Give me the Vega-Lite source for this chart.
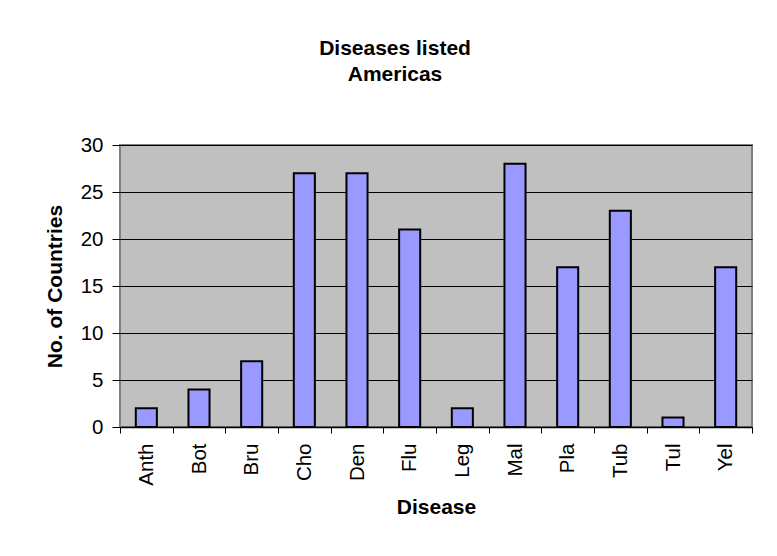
{
  "$schema": "https://vega.github.io/schema/vega-lite/v6.json",
  "autosize": {"type": "none"},
  "width": 632,
  "height": 282,
  "padding": {"left": 120, "top": 145, "right": 25, "bottom": 129},
  "background": "white",
  "title": {
    "text": ["Diseases listed", "Americas"],
    "font": "Liberation Sans",
    "fontSize": 21,
    "fontWeight": "bold",
    "color": "black",
    "lineHeight": 26,
    "anchor": "middle",
    "dx": -41,
    "offset": 50
  },
  "data": {
    "values": [
      {"disease": "Anth", "countries": 2},
      {"disease": "Bot", "countries": 4},
      {"disease": "Bru", "countries": 7},
      {"disease": "Cho", "countries": 27},
      {"disease": "Den", "countries": 27},
      {"disease": "Flu", "countries": 21},
      {"disease": "Leg", "countries": 2},
      {"disease": "Mal", "countries": 28},
      {"disease": "Pla", "countries": 17},
      {"disease": "Tub", "countries": 23},
      {"disease": "Tul", "countries": 1},
      {"disease": "Yel", "countries": 17}
    ]
  },
  "mark": {
    "type": "bar",
    "width": {"band": 0.4},
    "fill": "#9999FF",
    "stroke": "black",
    "strokeWidth": 2
  },
  "encoding": {
    "x": {
      "field": "disease",
      "type": "nominal",
      "sort": null,
      "scale": {"paddingInner": 0, "paddingOuter": 0},
      "axis": {
        "title": "Disease",
        "titleFont": "Liberation Sans",
        "titleFontSize": 21,
        "titleFontWeight": "bold",
        "titleColor": "black",
        "titlePadding": 11,
        "labelFont": "Liberation Sans",
        "labelFontSize": 20.5,
        "labelColor": "black",
        "labelAngle": -90,
        "labelPadding": 10,
        "tickBand": "extent",
        "tickSize": 6,
        "tickColor": "black",
        "domainColor": "black",
        "domainWidth": 1.5,
        "grid": false
      }
    },
    "y": {
      "field": "countries",
      "type": "quantitative",
      "scale": {"domain": [0, 30], "nice": false},
      "axis": {
        "title": "No. of Countries",
        "titleFont": "Liberation Sans",
        "titleFontSize": 21,
        "titleFontWeight": "bold",
        "titleColor": "black",
        "titlePadding": 15,
        "labelFont": "Liberation Sans",
        "labelFontSize": 20.5,
        "labelColor": "black",
        "labelPadding": 9,
        "values": [0, 5, 10, 15, 20, 25, 30],
        "tickSize": 8,
        "tickColor": "black",
        "domain": false,
        "grid": true,
        "gridColor": "black",
        "gridOpacity": 1,
        "gridWidth": 1
      }
    }
  },
  "config": {
    "view": {"fill": "#C0C0C0", "stroke": "#808080", "strokeWidth": 2}
  }
}
